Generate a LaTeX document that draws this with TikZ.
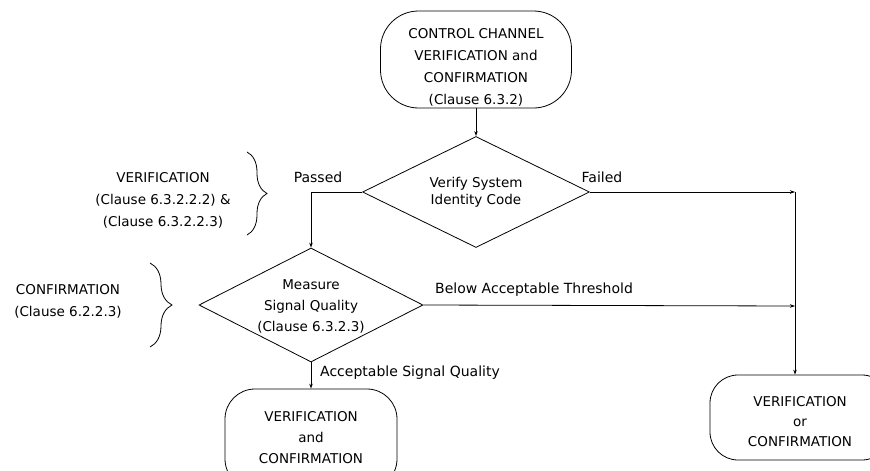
\documentclass[tikz,border=0pt]{standalone}
\usepackage{fontspec}
\setmainfont{DejaVu Sans}
\usetikzlibrary{shapes.geometric,arrows.meta,decorations.pathreplacing}
\tikzset{
  base/.style={line width=0.8pt},
  termbox/.style={base, draw, rounded corners=#1, inner sep=0pt},
  termbox/.default=34pt,
  decision/.style={base, draw, diamond, inner sep=0pt},
  txt/.style={align=center, inner sep=0pt, font=\fontsize{13.5}{22}\selectfont},
  lbl/.style={inner sep=0pt, font=\fontsize{14}{16}\selectfont},
  arr/.style={base, -{Stealth[length=5pt,width=3.5pt]}},
  bracedec/.style={base, decorate, decoration={brace, amplitude=#1}},
}
\begin{document}
\begin{tikzpicture}[x=1pt,y=-1pt]
\clip (0,0) rectangle (870,471);
\fill[white] (0,0) rectangle (870,471);

% start node
\node[termbox=38pt, minimum width=191pt, minimum height=97pt] (start) at (476,59.5) {};
\node[txt] (starttxt) at (476,67) {CONTROL CHANNEL\\VERIFICATION and\\CONFIRMATION\\(Clause 6.3.2)};

% decision 1
\node[decision, minimum width=227pt, minimum height=111pt] (d1) at (476,192) {};
\node[txt, font=\fontsize{13.5}{17}\selectfont] (d1txt) at (476,192) {Verify System\\Identity Code};

% decision 2
\node[decision, minimum width=224pt, minimum height=114pt] (d2) at (311,305) {};
\node[txt, font=\fontsize{13.5}{21}\selectfont] (d2txt) at (311,306) {Measure\\Signal Quality\\(Clause 6.3.2.3)};

% end nodes
\node[termbox=30pt, minimum width=172pt, minimum height=100pt] (endL) at (311,439) {};
\node[txt, font=\fontsize{13.5}{21}\selectfont] (endLtxt) at (311,438) {VERIFICATION\\and\\CONFIRMATION};
\node[termbox=28pt, minimum width=180pt, minimum height=85pt] (endR) at (800,417.5) {};
\node[txt, font=\fontsize{13.5}{20}\selectfont] (endRtxt) at (800,422) {VERIFICATION\\or\\CONFIRMATION};

% junctions
\coordinate (j1) at (795,192);
\coordinate (j2) at (795,306);

% connectors
\draw[arr] (start.south) -- (d1.north);
\draw[arr] (d1.west) -| (d2.north);
\draw[arr] (d1.east) -- (j1);
\draw[arr] (d2.east) -- (j2);
\draw[arr] (j1) -- (endR.north -| j1);
\draw[arr] (d2.south) -- (endL.north);

% connector labels
\node[lbl] (lpassed) at (318,177) {Passed};
\node[lbl] (lfailed) at (602,177) {Failed};
\node[lbl] (lbelow) at (534,290) {Below Acceptable Threshold};
\node[lbl] (lacc) at (410,373) {Acceptable Signal Quality};

% braces
\draw[bracedec=20pt] (247,152) -- (247,235);
\draw[bracedec=22pt] (150,263) -- (150,347);
\node[txt] (vertxt) at (163,200) {VERIFICATION\\(Clause 6.3.2.2.2) \&\\(Clause 6.3.2.2.3)};
\node[txt] (conftxt) at (68,301.5) {CONFIRMATION\\(Clause 6.2.2.3)};
\end{tikzpicture}
\end{document}
